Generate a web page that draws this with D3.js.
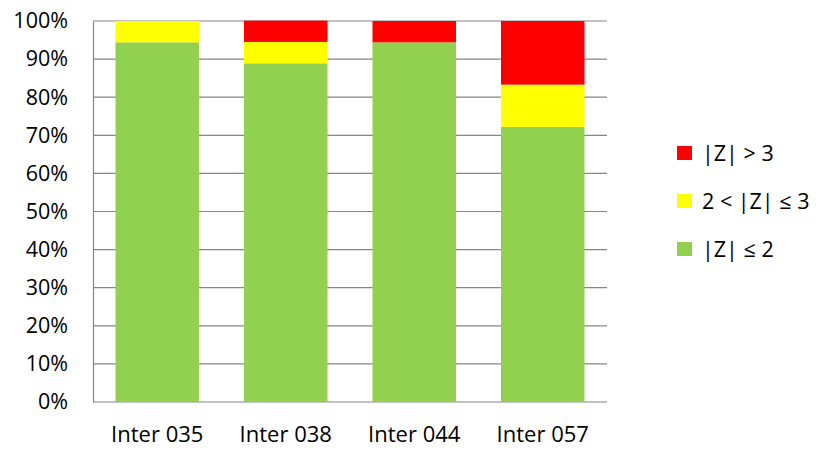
<!DOCTYPE html>
<html>
<head>
<meta charset="utf-8">
<script src="https://cdn.jsdelivr.net/npm/d3@7"></script>
<style>
  body { margin: 0; background: #fff; }
  text { font-family: "Open Sans", "Noto Sans", sans-serif; fill: #000; }
</style>
</head>
<body>
<script>
// data (share of values in each Z class, per lab)
const labs = ['Inter 035', 'Inter 038', 'Inter 044', 'Inter 057'];
const zLow = [0.944, 0.889, 0.944, 0.722];   // |Z| <= 2
const zMid = [0.056, 0.056, 0, 0.111];       // 2 < |Z| <= 3
const zHigh = [0, 0.056, 0.056, 0.167];      // |Z| > 3
const seriesNames = ['|Z| > 3', '2 < |Z| \u2264 3', '|Z| \u2264 2'];
const yTicks = [0, 0.1, 0.2, 0.3, 0.4, 0.5, 0.6, 0.7, 0.8, 0.9, 1];

const colors = {low: '#92d050', mid: '#ffff00', high: '#ff0000'};
const fontSize = 21.5;

const margin = {top: 21, left: 93, right: 212, bottom: 48};
const width = 819 - margin.left - margin.right;
const height = 450 - margin.top - margin.bottom;

const svg = d3.select('body').append('svg')
    .attr('width', 819)
    .attr('height', 450);
const root = svg.append('g').attr('transform', `translate(${margin.left},${margin.top})`);

const xscale = d3.scaleBand().domain(labs).range([0, width]).paddingInner(0.35).paddingOuter(0.175);
const yscale = d3.scaleLinear().domain([0, 1]).range([height, 0]);

//gridlines
root.append('g').attr('class', 'grid')
    .selectAll('line').data(yTicks).enter().append('line')
    .attr('x1', 0).attr('x2', width)
    .attr('y1', (d) => yscale(d)).attr('y2', (d) => yscale(d))
    .attr('stroke', '#868686').attr('stroke-width', 1.2);

//stack the three classes
const rows = labs.map((lab, i) => ({lab: lab, low: zLow[i], mid: zMid[i], high: zHigh[i]}));
const stack = d3.stack().keys(['low', 'mid', 'high'])(rows);

root.append('g').attr('class', 'chart')
    .selectAll('g').data(stack).enter().append('g')
    .attr('fill', (s) => colors[s.key])
    .selectAll('rect').data((s) => s).enter().append('rect')
    .attr('x', (d) => xscale(d.data.lab))
    .attr('width', xscale.bandwidth())
    .attr('y', (d) => yscale(d[1]))
    .attr('height', (d) => yscale(d[0]) - yscale(d[1]));

//axes
const yaxis = d3.axisLeft(yscale).tickValues(yTicks).tickFormat(d3.format('.0%')).tickSize(0).tickPadding(25);
root.append('g').attr('class', 'axis yaxis').call(yaxis)
    .call((g) => g.select('.domain').attr('stroke', '#868686').attr('stroke-width', 1.2))
    .call((g) => g.selectAll('text').attr('font-size', fontSize).attr('font-family', null));

const xaxis = d3.axisBottom(xscale).tickSize(0).tickPadding(24);
root.append('g').attr('class', 'axis xaxis').attr('transform', `translate(0,${height})`).call(xaxis)
    .call((g) => g.select('.domain').remove())
    .call((g) => g.selectAll('text').attr('font-size', fontSize + 0.5).attr('font-family', null));

//legend
const legendColors = [colors.high, colors.mid, colors.low];
const legend = svg.append('g').attr('class', 'legend')
    .selectAll('g').data(seriesNames).enter().append('g')
    .attr('transform', (d, i) => `translate(677,${146 + i * 48})`);
legend.append('rect').attr('width', 15).attr('height', 14)
    .attr('fill', (d, i) => legendColors[i]);
legend.append('text').attr('x', 25).attr('y', 7).attr('dy', '0.35em')
    .attr('font-size', fontSize).text((d) => d);
</script>
</body>
</html>
